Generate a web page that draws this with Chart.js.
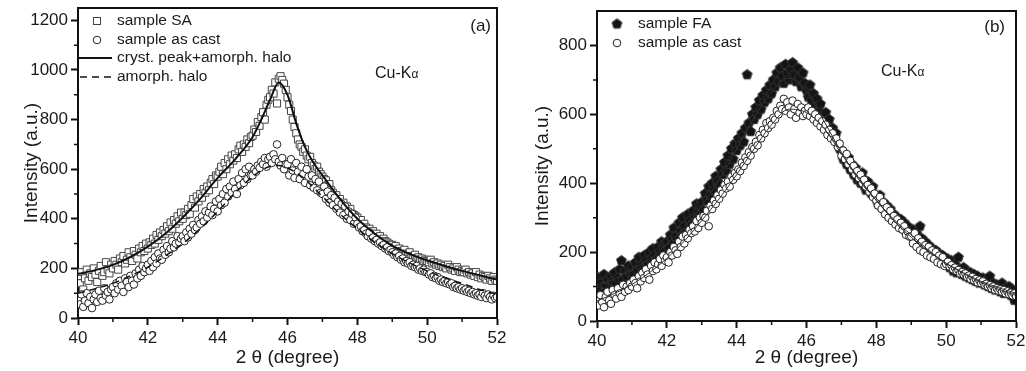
<!DOCTYPE html>
<html><head><meta charset="utf-8">
<script src="https://cdn.jsdelivr.net/npm/chart.js@4.4.0/dist/chart.umd.min.js"></script>
<style>
html,body{margin:0;padding:0;background:#fff;width:1026px;height:371px;overflow:hidden}
#wa{position:absolute;left:0;top:0;width:510px;height:371px}
#wb{position:absolute;left:510px;top:0;width:516px;height:371px}
</style></head><body>
<div id="wa"><canvas id="ca" width="510" height="371"></canvas></div>
<div id="wb"><canvas id="cb" width="516" height="371"></canvas></div>
<script>
// ---- data ----
const twoTheta = [
40.00,40.05,40.10,40.15,40.20,40.25,40.30,40.35,40.40,40.45,40.50,40.55,40.60,40.65,40.70,40.75,40.80,40.85,40.90,40.95,
41.00,41.05,41.10,41.15,41.20,41.25,41.30,41.35,41.40,41.45,41.50,41.55,41.60,41.65,41.70,41.75,41.80,41.85,41.90,41.95,
42.00,42.05,42.10,42.15,42.20,42.25,42.30,42.35,42.40,42.45,42.50,42.55,42.60,42.65,42.70,42.75,42.80,42.85,42.90,42.95,
43.00,43.05,43.10,43.15,43.20,43.25,43.30,43.35,43.40,43.45,43.50,43.55,43.60,43.65,43.70,43.75,43.80,43.85,43.90,43.95,
44.00,44.05,44.10,44.15,44.20,44.25,44.30,44.35,44.40,44.45,44.50,44.55,44.60,44.65,44.70,44.75,44.80,44.85,44.90,44.95,
45.00,45.05,45.10,45.15,45.20,45.25,45.30,45.35,45.40,45.45,45.50,45.55,45.60,45.65,45.70,45.75,45.80,45.85,45.90,45.95,
46.00,46.05,46.10,46.15,46.20,46.25,46.30,46.35,46.40,46.45,46.50,46.55,46.60,46.65,46.70,46.75,46.80,46.85,46.90,46.95,
47.00,47.05,47.10,47.15,47.20,47.25,47.30,47.35,47.40,47.45,47.50,47.55,47.60,47.65,47.70,47.75,47.80,47.85,47.90,47.95,
48.00,48.05,48.10,48.15,48.20,48.25,48.30,48.35,48.40,48.45,48.50,48.55,48.60,48.65,48.70,48.75,48.80,48.85,48.90,48.95,
49.00,49.05,49.10,49.15,49.20,49.25,49.30,49.35,49.40,49.45,49.50,49.55,49.60,49.65,49.70,49.75,49.80,49.85,49.90,49.95,
50.00,50.05,50.10,50.15,50.20,50.25,50.30,50.35,50.40,50.45,50.50,50.55,50.60,50.65,50.70,50.75,50.80,50.85,50.90,50.95,
51.00,51.05,51.10,51.15,51.20,51.25,51.30,51.35,51.40,51.45,51.50,51.55,51.60,51.65,51.70,51.75,51.80,51.85,51.90,51.95,
52.00];
const sampleSA = [
170,140,185,115,160,195,150,180,165,200,175,145,190,210,170,185,225,195,180,215,
200,230,215,195,240,225,250,220,235,265,245,230,270,255,240,280,265,290,270,300,
280,305,295,320,300,335,315,345,330,355,340,370,350,385,360,395,380,410,390,425,
400,425,415,440,420,455,480,445,490,470,500,485,520,505,530,515,545,560,540,575,
570,590,610,580,625,600,640,620,655,635,660,645,680,695,670,700,690,720,705,730,
735,760,750,790,775,810,830,800,860,880,890,920,905,950,865,965,975,960,945,920,
890,860,835,800,770,745,720,700,690,670,680,655,640,650,625,615,600,610,590,580,
570,560,555,535,540,515,505,490,495,470,480,460,465,445,450,430,440,420,415,410,
405,390,395,375,380,365,355,360,345,350,335,340,325,330,315,320,310,305,300,295,
295,285,290,275,280,270,265,275,260,255,265,250,245,255,240,245,235,240,230,235,
230,225,235,220,225,215,220,210,215,205,210,200,215,205,195,200,190,205,195,185,
190,185,195,180,185,175,180,170,185,165,175,160,170,165,155,170,160,150,165,155,
150];
const asCastA = [
80,55,95,45,70,100,60,85,40,75,95,65,110,80,70,120,90,105,75,115,
125,100,140,115,150,130,105,160,145,125,170,150,135,180,160,195,170,210,185,200,
215,190,230,205,245,220,260,240,235,275,255,290,265,280,310,285,300,330,305,320,
330,310,345,325,360,340,375,355,365,395,380,410,390,430,405,425,450,415,440,470,
430,480,455,500,465,520,490,530,505,550,520,500,560,535,585,545,600,560,610,575,
575,600,590,615,605,630,620,645,610,640,650,625,660,640,700,630,615,645,600,620,
620,575,640,595,565,625,590,560,610,580,545,600,570,535,575,525,560,515,550,505,
500,530,480,510,465,495,455,485,440,470,425,460,415,450,400,430,395,420,380,405,
380,365,370,350,355,340,330,345,320,325,310,315,300,305,290,295,280,285,270,275,
265,255,260,245,250,235,240,225,230,220,225,210,215,205,210,195,200,190,195,185,
185,175,180,165,170,160,165,150,155,145,150,140,145,135,140,125,130,120,125,115,
120,110,115,105,110,100,105,95,100,90,95,85,100,90,80,95,85,75,90,80,
85];
const fitThetaA = [40,40.5,41,41.5,42,42.5,43,43.5,44,44.5,45,45.25,45.5,45.75,46,46.25,46.5,46.75,47,47.5,48,48.5,49,49.5,50,50.5,51,51.5,52];
const fitSA  = [178,193,214,246,288,340,405,480,565,640,730,800,880,950,900,785,690,625,575,480,400,340,292,258,232,210,190,172,155];
const haloA  = [100,118,140,170,205,250,300,360,430,505,570,595,612,615,605,585,560,525,490,420,360,305,260,222,190,162,140,115,95];

const sampleFA = [
95,125,110,80,135,105,120,90,130,115,140,110,125,150,175,120,145,130,160,140,
155,135,170,150,185,160,145,190,175,165,200,180,210,190,175,215,200,230,210,225,
230,210,250,235,270,245,225,285,260,300,275,255,310,290,280,320,300,340,315,335,
345,320,370,350,390,365,400,380,420,405,395,440,425,460,435,480,455,500,470,515,
495,530,510,545,520,560,715,575,550,600,585,620,600,640,615,655,635,670,645,685,
660,700,680,720,695,735,710,690,745,720,700,730,750,715,695,735,705,680,720,690,
670,650,685,640,660,625,645,610,630,595,580,605,565,585,545,560,530,545,515,500,
495,470,485,455,475,440,455,425,445,410,420,400,430,395,380,405,385,370,390,365,
355,340,365,330,345,320,335,305,325,295,310,290,300,280,295,270,285,260,275,255,
250,265,235,255,225,275,240,215,230,205,220,200,210,190,205,180,195,175,190,170,
165,180,155,175,145,165,140,185,150,135,155,130,145,125,140,120,135,115,130,110,
115,125,105,120,100,130,95,110,90,105,100,85,110,80,95,85,100,75,90,60,
80];
const asCastB = [
60,45,75,55,40,70,85,60,50,90,75,65,95,80,70,105,85,100,90,110,
100,120,110,95,130,115,140,125,150,135,120,160,145,170,150,165,180,160,190,175,
185,170,200,190,215,205,195,230,215,245,225,250,240,265,255,275,260,290,270,300,
285,305,300,320,275,335,325,350,340,365,355,380,370,395,385,405,390,420,410,430,
420,440,435,460,450,475,465,490,480,505,500,520,510,540,530,555,545,575,560,580,
570,590,585,610,600,625,615,645,610,635,620,600,640,615,590,630,605,620,595,610,
600,620,595,610,585,600,575,590,565,580,555,570,540,555,530,545,520,530,505,515,
480,495,470,485,455,465,440,450,425,435,415,425,400,410,390,395,375,385,360,370,
350,335,360,325,345,310,330,300,320,290,305,280,295,270,285,265,275,250,260,245,
245,225,255,215,240,205,230,200,220,190,215,185,205,180,200,170,190,165,185,160,
165,172,158,162,150,155,145,148,138,142,135,138,128,132,122,128,118,122,112,118,
110,115,105,108,100,104,95,100,90,95,88,92,85,90,80,86,78,82,74,80,
72];
const fitThetaB = [40,40.5,41,41.5,42,42.5,43,43.5,44,44.5,45,45.5,46,46.5,47,47.5,48,48.5,49,49.5,50,50.5,51,51.5,52];
const fitFA    = [105,122,150,180,225,272,335,410,500,590,665,705,665,580,490,410,350,295,250,205,168,140,115,97,80];
const fitCastB = [58,80,106,140,182,232,292,355,425,500,570,615,605,560,485,415,350,292,243,203,167,138,112,92,74];

const xTicks  = [40,42,44,46,48,50,52];
const xMinor  = [41,43,45,47,49,51];
const yTicksA = [0,200,400,600,800,1000,1200];
const yMinorA = [100,300,500,700,900,1100];
const yTicksB = [0,200,400,600,800];
const yMinorB = [100,300,500,700];

// ---- helpers ----
const FAM = '"Liberation Sans", Arial, Helvetica, sans-serif';
const INK = '#1a1a1a';
const pts = (xs, ys) => xs.map((x, i) => ({x, y: ys[i]}));

function pentagon(r, fill, stroke){
  const s = Math.ceil(2*r + 2);
  const c = document.createElement('canvas'); c.width = s; c.height = s;
  const g = c.getContext('2d'); g.beginPath();
  for (let i = 0; i < 5; i++){
    const a = -Math.PI/2 + i*2*Math.PI/5;
    const px = s/2 + r*Math.cos(a), py = s/2 + r*Math.sin(a);
    if (i) g.lineTo(px, py); else g.moveTo(px, py);
  }
  g.closePath(); g.fillStyle = fill; g.fill();
  g.strokeStyle = stroke; g.lineWidth = 1; g.stroke();
  return c;
}
const pentImg = pentagon(5.2, '#141414', '#333');

function scales(cfg){
  return {
    x: {
      type:'linear', position:'bottom', min:40, max:52,
      afterBuildTicks: s => { s.ticks = xTicks.map(v => ({value:v})); },
      afterFit: s => { s.height = cfg.xh; s.paddingLeft = 0; s.paddingRight = 0; },
      ticks:{ font:{size:17, family:FAM}, color:INK, padding:3, maxRotation:0, autoSkip:false, callback: v => String(v) },
      grid:{ display:true, drawOnChartArea:false, drawTicks:true, tickLength:7, tickWidth:2, tickColor:'#111' },
      border:{ display:true, width:2, color:'#111' },
      title:{ display:true, text:'2 θ (degree)', font:{size:19, family:FAM}, color:INK, padding:{top:0, bottom:2} }
    },
    y: {
      type:'linear', position:'left', min:0, max:cfg.ymax,
      afterBuildTicks: s => { s.ticks = cfg.yTicks.map(v => ({value:v})); },
      afterFit: s => { s.width = cfg.yw; s.paddingTop = 0; s.paddingBottom = 0; },
      ticks:{ font:{size:17, family:FAM}, color:INK, padding:3, callback: v => String(v) },
      grid:{ display:true, drawOnChartArea:false, drawTicks:true, tickLength:7, tickWidth:2, tickColor:'#111' },
      border:{ display:true, width:2, color:'#111' },
      title:{ display:true, text:'Intensity (a.u.)', font:{size:19, family:FAM}, color:INK, padding:{top:cfg.ytp, bottom:0} }
    }
  };
}

function framePlugin(yMinor){
  return {
    id:'frame',
    afterDraw(chart){
      const {ctx, chartArea:{left,right,top,bottom}, scales:{x,y}} = chart;
      ctx.save();
      ctx.strokeStyle = '#111'; ctx.lineWidth = 1.5; ctx.beginPath();
      xMinor.forEach(v => { const px = x.getPixelForValue(v); ctx.moveTo(px, bottom); ctx.lineTo(px, bottom + 4); });
      yMinor.forEach(v => { const py = y.getPixelForValue(v); ctx.moveTo(left, py); ctx.lineTo(left - 4, py); });
      ctx.stroke();
      ctx.lineWidth = 2; ctx.beginPath();
      ctx.moveTo(left - 1, top); ctx.lineTo(right, top); ctx.lineTo(right, bottom + 1);
      ctx.stroke();
      ctx.restore();
    }
  };
}

function drawCuKa(ctx, x, y){
  ctx.font = '16px ' + FAM; ctx.fillStyle = INK; ctx.textBaseline = 'alphabetic'; ctx.textAlign = 'left';
  ctx.fillText('Cu-K', x, y);
  const w = ctx.measureText('Cu-K').width;
  ctx.font = '12px ' + FAM; ctx.fillText('α', x + w, y);
}

const annotA = {
  id:'annotA',
  afterDraw(chart){
    const {ctx, chartArea:{left,top,right}} = chart;
    ctx.save();
    const mx = left + 19, tx = left + 39;
    const rows = [top + 13, top + 32, top + 50, top + 69];
    ctx.lineWidth = 1; ctx.strokeStyle = '#444'; ctx.fillStyle = '#fff';
    ctx.fillRect(mx - 3.5, rows[0] - 3.5, 7, 7); ctx.strokeRect(mx - 3.5, rows[0] - 3.5, 7, 7);
    ctx.strokeStyle = '#222'; ctx.beginPath(); ctx.arc(mx, rows[1], 3.8, 0, 2*Math.PI); ctx.fill(); ctx.stroke();
    ctx.strokeStyle = '#111'; ctx.lineWidth = 2; ctx.beginPath(); ctx.moveTo(left, rows[2]); ctx.lineTo(left + 34, rows[2]); ctx.stroke();
    ctx.lineWidth = 1.6; ctx.setLineDash([7, 5]); ctx.beginPath(); ctx.moveTo(left + 2, rows[3]); ctx.lineTo(left + 34, rows[3]); ctx.stroke(); ctx.setLineDash([]);
    ctx.font = '15.5px ' + FAM; ctx.fillStyle = INK; ctx.textBaseline = 'middle'; ctx.textAlign = 'left';
    ['sample SA','sample as cast','cryst. peak+amorph. halo','amorph. halo'].forEach((t, i) => ctx.fillText(t, tx, rows[i]));
    ctx.font = '17px ' + FAM; ctx.textAlign = 'right'; ctx.fillText('(a)', right - 6, top + 18);
    drawCuKa(ctx, 375, 78);
    ctx.restore();
  }
};

const annotB = {
  id:'annotB',
  afterDraw(chart){
    const {ctx, chartArea:{left,top,right}} = chart;
    ctx.save();
    const mx = left + 20, tx = left + 41;
    const rows = [top + 13, top + 32];
    ctx.drawImage(pentImg, mx - pentImg.width/2, rows[0] - pentImg.height/2);
    ctx.lineWidth = 1; ctx.strokeStyle = '#222'; ctx.fillStyle = '#fff';
    ctx.beginPath(); ctx.arc(mx, rows[1], 3.8, 0, 2*Math.PI); ctx.fill(); ctx.stroke();
    ctx.font = '15.5px ' + FAM; ctx.fillStyle = INK; ctx.textBaseline = 'middle'; ctx.textAlign = 'left';
    ['sample FA','sample as cast'].forEach((t, i) => ctx.fillText(t, tx, rows[i]));
    ctx.font = '17px ' + FAM; ctx.textAlign = 'right'; ctx.fillText('(b)', right - 11, top + 16);
    drawCuKa(ctx, 371, 76);
    ctx.restore();
  }
};

const common = {
  responsive:false, animation:false, events:[],
  plugins:{ legend:{display:false}, tooltip:{enabled:false} }
};

new Chart(document.getElementById('ca'), {
  type:'scatter',
  data:{ datasets:[
    { label:'cryst. peak+amorph. halo', data: pts(fitThetaA, fitSA), showLine:true, pointRadius:0,
      borderColor:'#111', borderWidth:2, cubicInterpolationMode:'monotone', order:0 },
    { label:'amorph. halo', data: pts(fitThetaA, haloA), showLine:true, pointRadius:0,
      borderColor:'#111', borderWidth:1.5, borderDash:[7,5], cubicInterpolationMode:'monotone', order:1 },
    { label:'sample as cast', data: pts(twoTheta, asCastA), pointStyle:'circle', pointRadius:3.8,
      borderColor:'#222', backgroundColor:'#fff', borderWidth:1, order:2 },
    { label:'sample SA', data: pts(twoTheta, sampleSA), pointStyle:'rect', pointRadius:5,
      borderColor:'#444', backgroundColor:'#fff', borderWidth:1, order:3 }
  ]},
  options: Object.assign({}, common, {
    layout:{ padding:{left:0, top:8, right:13, bottom:0} },
    scales: scales({xh:53, yw:78, ymax:1250, yTicks:yTicksA, ytp:20})
  }),
  plugins:[framePlugin(yMinorA), annotA]
});

new Chart(document.getElementById('cb'), {
  type:'scatter',
  data:{ datasets:[
    { label:'fit as cast', data: pts(fitThetaB, fitCastB), showLine:true, pointRadius:0,
      borderColor:'#333', borderWidth:1, cubicInterpolationMode:'monotone', order:0 },
    { label:'fit FA', data: pts(fitThetaB, fitFA), showLine:true, pointRadius:0,
      borderColor:'#333', borderWidth:1, cubicInterpolationMode:'monotone', order:1 },
    { label:'sample as cast', data: pts(twoTheta, asCastB), pointStyle:'circle', pointRadius:3.8,
      borderColor:'#222', backgroundColor:'#fff', borderWidth:1, order:2 },
    { label:'sample FA', data: pts(twoTheta, sampleFA), pointStyle:pentImg, pointRadius:5, order:3 }
  ]},
  options: Object.assign({}, common, {
    layout:{ padding:{left:0, top:11, right:10, bottom:0} },
    scales: scales({xh:50, yw:87, ymax:900, yTicks:yTicksB, ytp:21})
  }),
  plugins:[framePlugin(yMinorB), annotB]
});
</script>
</body></html>
